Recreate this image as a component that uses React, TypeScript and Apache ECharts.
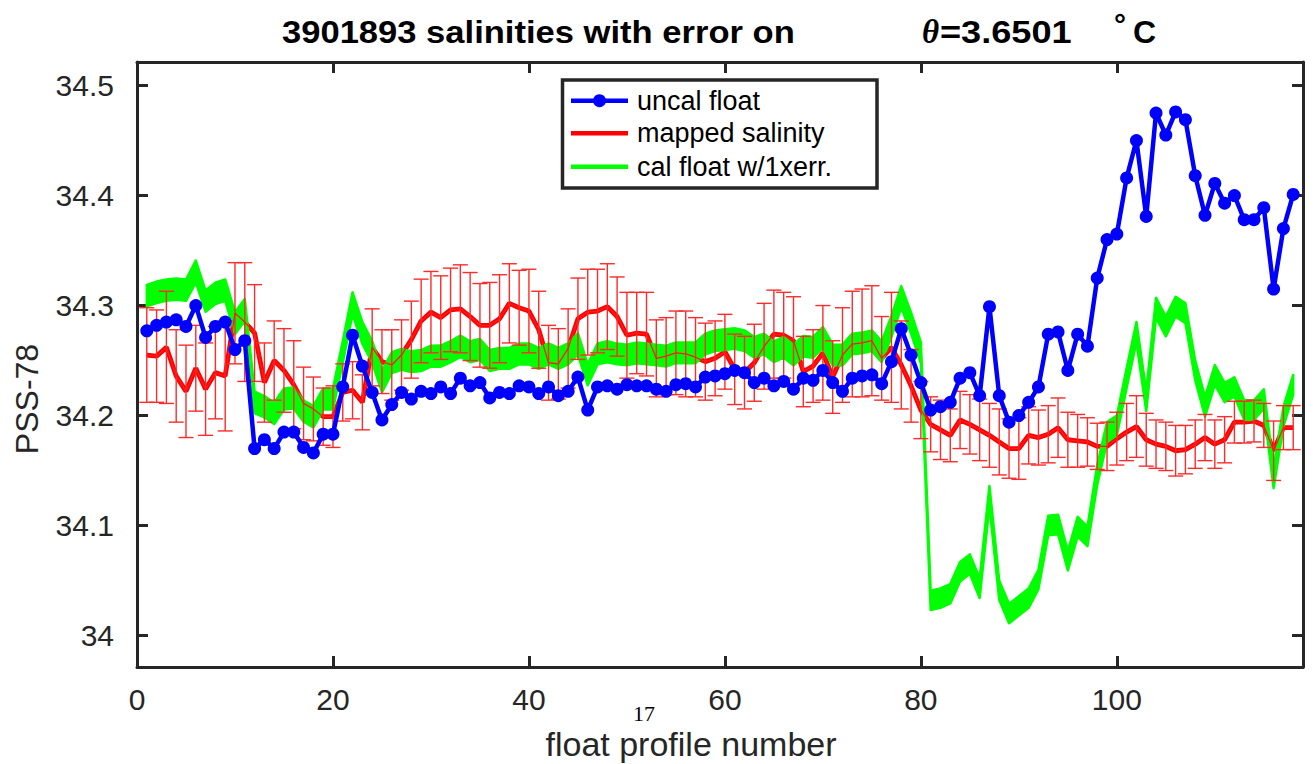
import React, { useEffect, useRef } from "react";
import * as echarts from "echarts";

const profiles = Array.from({ length: 118 }, (_, i) => i + 1);

const uncalFloat = [
  34.277, 34.282, 34.285, 34.287, 34.281, 34.300, 34.271, 34.281, 34.285, 34.260,
  34.268, 34.170, 34.178, 34.170, 34.185, 34.185, 34.171, 34.166, 34.183, 34.183,
  34.226, 34.273, 34.245, 34.221, 34.196, 34.210, 34.221, 34.215, 34.222, 34.220,
  34.226, 34.220, 34.234, 34.227, 34.230, 34.216, 34.221, 34.220, 34.227, 34.226,
  34.220, 34.226, 34.218, 34.222, 34.235, 34.205, 34.226, 34.227, 34.224, 34.228,
  34.227, 34.227, 34.224, 34.222, 34.228, 34.229, 34.226, 34.235, 34.236, 34.238,
  34.241, 34.239, 34.230, 34.234, 34.227, 34.231, 34.224, 34.234, 34.232, 34.241,
  34.230, 34.222, 34.234, 34.236, 34.237, 34.229, 34.249, 34.279, 34.255, 34.230,
  34.205, 34.208, 34.212, 34.234, 34.239, 34.218, 34.299, 34.218, 34.194, 34.200,
  34.212, 34.226, 34.274, 34.276, 34.241, 34.274, 34.263, 34.325, 34.360, 34.365,
  34.416, 34.450, 34.381, 34.475, 34.455, 34.476, 34.469, 34.418, 34.382, 34.411,
  34.393, 34.400, 34.378, 34.378, 34.389, 34.315, 34.370, 34.401,
];

const mappedSalinity = [
  34.255, 34.254, 34.262, 34.236, 34.222, 34.243, 34.224, 34.239, 34.236, 34.293,
  34.285, 34.275, 34.230, 34.250, 34.241, 34.228, 34.211, 34.206, 34.199, 34.199,
  34.221, 34.223, 34.212, 34.262, 34.249, 34.246, 34.255, 34.269, 34.286, 34.294,
  34.289, 34.296, 34.297, 34.290, 34.282, 34.282, 34.288, 34.302, 34.298, 34.295,
  34.278, 34.248, 34.247, 34.261, 34.288, 34.294, 34.295, 34.299, 34.290, 34.273,
  34.275, 34.274, 34.252, 34.254, 34.257, 34.256, 34.253, 34.249, 34.252, 34.258,
  34.242, 34.239, 34.248, 34.263, 34.274, 34.273, 34.268, 34.240, 34.245, 34.257,
  34.235, 34.255, 34.265, 34.266, 34.268, 34.252, 34.262, 34.246, 34.227, 34.205,
  34.192, 34.187, 34.182, 34.196, 34.192, 34.187, 34.182, 34.176, 34.170, 34.170,
  34.182, 34.180, 34.183, 34.189, 34.178, 34.177, 34.176, 34.172, 34.172, 34.179,
  34.185, 34.190, 34.178, 34.174, 34.172, 34.168, 34.169, 34.174, 34.180, 34.174,
  34.178, 34.194, 34.194, 34.195, 34.191, 34.168, 34.189, 34.189,
];

const mappedError = [
  0.043, 0.042, 0.051, 0.042, 0.042, 0.039, 0.042, 0.042, 0.050, 0.046,
  0.054, 0.044, 0.036, 0.036, 0.038, 0.040, 0.033, 0.029, 0.026, 0.028,
  0.026, 0.026, 0.025, 0.035, 0.029, 0.032, 0.032, 0.035, 0.038, 0.037,
  0.038, 0.038, 0.040, 0.040, 0.038, 0.039, 0.040, 0.036, 0.034, 0.038,
  0.035, 0.034, 0.032, 0.036, 0.037, 0.039, 0.038, 0.039, 0.036, 0.039,
  0.037, 0.038, 0.035, 0.035, 0.038, 0.039, 0.036, 0.035, 0.034, 0.034,
  0.032, 0.033, 0.035, 0.039, 0.040, 0.039, 0.040, 0.032, 0.033, 0.043,
  0.033, 0.043, 0.048, 0.049, 0.050, 0.038, 0.050, 0.040, 0.033, 0.026,
  0.025, 0.027, 0.024, 0.026, 0.027, 0.028, 0.029, 0.030, 0.027, 0.028,
  0.026, 0.025, 0.026, 0.027, 0.025, 0.024, 0.022, 0.021, 0.022, 0.024,
  0.026, 0.028, 0.024, 0.022, 0.022, 0.023, 0.022, 0.022, 0.021, 0.022,
  0.021, 0.019, 0.019, 0.019, 0.020, 0.027, 0.020, 0.020,
];

const calFloat = [
  34.309, 34.312, 34.314, 34.315, 34.314, 34.331, 34.304, 34.311, 34.314, 34.284,
  34.296, 34.212, 34.208, 34.202, 34.215, 34.216, 34.204, 34.199, 34.215, 34.215,
  34.258, 34.302, 34.275, 34.258, 34.231, 34.248, 34.251, 34.249, 34.250, 34.254,
  34.254, 34.258, 34.263, 34.258, 34.260, 34.250, 34.252, 34.252, 34.256, 34.256,
  34.252, 34.256, 34.252, 34.256, 34.265, 34.237, 34.256, 34.258, 34.256, 34.255,
  34.257, 34.256, 34.255, 34.254, 34.257, 34.257, 34.257, 34.265, 34.268, 34.269,
  34.270, 34.268, 34.262, 34.265, 34.258, 34.262, 34.255, 34.263, 34.262, 34.271,
  34.255, 34.255, 34.265, 34.266, 34.268, 34.258, 34.281, 34.308, 34.284, 34.257,
  34.032, 34.034, 34.038, 34.058, 34.065, 34.043, 34.127, 34.041, 34.020, 34.027,
  34.034, 34.051, 34.100, 34.101, 34.068, 34.099, 34.090, 34.146, 34.185, 34.191,
  34.234, 34.276, 34.213, 34.298, 34.281, 34.299, 34.293, 34.241, 34.208, 34.237,
  34.221, 34.226, 34.205, 34.205, 34.215, 34.143, 34.199, 34.228,
];

const calError = [
  0.0098, 0.0098, 0.0097, 0.0097, 0.0097, 0.0099, 0.0096, 0.0097, 0.0097, 0.0098,
  0.0099, 0.0098, 0.0097, 0.0097, 0.0096, 0.0096, 0.0096, 0.0097, 0.0096, 0.0096,
  0.0098, 0.0100, 0.0099, 0.0098, 0.0097, 0.0095, 0.0095, 0.0095, 0.0095, 0.0095,
  0.0096, 0.0096, 0.0096, 0.0095, 0.0095, 0.0095, 0.0095, 0.0095, 0.0095, 0.0095,
  0.0095, 0.0095, 0.0095, 0.0095, 0.0096, 0.0095, 0.0095, 0.0095, 0.0094, 0.0094,
  0.0094, 0.0094, 0.0094, 0.0094, 0.0094, 0.0094, 0.0094, 0.0094, 0.0094, 0.0094,
  0.0094, 0.0094, 0.0094, 0.0094, 0.0094, 0.0094, 0.0094, 0.0094, 0.0094, 0.0094,
  0.0094, 0.0094, 0.0094, 0.0094, 0.0094, 0.0094, 0.0095, 0.0097, 0.0096, 0.0095,
  0.0088, 0.0088, 0.0088, 0.0088, 0.0088, 0.0088, 0.0090, 0.0088, 0.0088, 0.0088,
  0.0088, 0.0088, 0.0089, 0.0089, 0.0088, 0.0089, 0.0088, 0.0090, 0.0090, 0.0089,
  0.0089, 0.0090, 0.0089, 0.0090, 0.0090, 0.0090, 0.0090, 0.0089, 0.0089, 0.0089,
  0.0088, 0.0088, 0.0088, 0.0088, 0.0088, 0.0090, 0.0088, 0.0089,
];

const xTicks = [0, 20, 40, 60, 80, 100];
const yTicks = [34, 34.1, 34.2, 34.3, 34.4, 34.5];

const titleMain = "3901893 salinities with error on";
const titleTheta = "\u03b8";
const titleValue = "=3.6501";
const titleDeg = "\u00b0";
const titleUnit = "C";
const xName = "float profile number";
const yName = "PSS-78";
const strayLabel = "17";
const legendNames = ["uncal float", "mapped salinity", "cal float w/1xerr."];

const SANS = "'Liberation Sans', Arial, Helvetica, sans-serif";
const SERIF = "'Liberation Serif', 'Times New Roman', serif";
const FRAME = "#262626";

export default function App() {
  const ref = useRef<HTMLDivElement>(null);

  useEffect(() => {
    if (!ref.current) return;
    const chart = echarts.init(ref.current, undefined, { renderer: "svg" });

    const blueData = profiles.map((p, i) => [p, uncalFloat[i]]);
    const redData = profiles.map((p, i) => [p, mappedSalinity[i]]);
    const errData = profiles.map((p, i) => [
      p,
      mappedSalinity[i] - mappedError[i],
      mappedSalinity[i] + mappedError[i],
    ]);
    const bandData = profiles.map((p, i) => [
      p,
      calFloat[i] - calError[i],
      calFloat[i] + calError[i],
    ]);

    const axisLine = { show: true, onZero: false, lineStyle: { color: FRAME, width: 3 } };
    const tick = (vals: number[]) => ({
      show: true,
      inside: true,
      length: 11,
      customValues: vals,
      lineStyle: { color: FRAME, width: 3 },
    });

    const txt = (
      text: string,
      x: number,
      y: number,
      opts: Record<string, any> = {},
      extra: Record<string, any> = {}
    ) => ({
      type: "text",
      x,
      y,
      z: 100,
      ...extra,
      style: {
        text,
        fill: "#000",
        fontFamily: SANS,
        fontSize: 26,
        align: "left",
        verticalAlign: "middle",
        textAlign: "left",
        textVerticalAlign: "middle",
        ...opts,
      },
    });

    const legendRows = [100.7, 133.3, 166.7];
    const legendColors = ["#0000ff", "#ff0000", "#00ff00"];

    const option: any = {
      animation: false,
      backgroundColor: "#fff",
      grid: { left: 137, top: 62, width: 1166, height: 605, containLabel: false },
      xAxis: [
        {
          type: "value",
          min: 0,
          max: 119,
          position: "bottom",
          axisLine,
          axisTick: tick(xTicks),
          axisLabel: {
            customValues: xTicks,
            fontSize: 30,
            fontFamily: SANS,
            color: FRAME,
            margin: 17,
          },
          splitLine: { show: false },
        },
        {
          type: "value",
          min: 0,
          max: 119,
          position: "top",
          axisLine,
          axisTick: tick(xTicks),
          axisLabel: { show: false },
          splitLine: { show: false },
        },
      ],
      yAxis: [
        {
          type: "value",
          min: 33.9714,
          max: 34.5214,
          position: "left",
          axisLine,
          axisTick: tick(yTicks),
          axisLabel: {
            customValues: yTicks,
            fontSize: 30,
            fontFamily: SANS,
            color: FRAME,
            margin: 23,
            formatter: (v: number) => String(Math.round(v * 10) / 10),
          },
          splitLine: { show: false },
        },
        {
          type: "value",
          min: 33.9714,
          max: 34.5214,
          position: "right",
          axisLine,
          axisTick: tick(yTicks),
          axisLabel: { show: false },
          splitLine: { show: false },
        },
      ],
      series: [
        {
          name: "mapped salinity",
          type: "line",
          data: redData,
          symbol: "none",
          z: 1,
          lineStyle: { color: "#ff0000", width: 4.8 },
          silent: true,
        },
        {
          name: "cal float w/1xerr.",
          type: "custom",
          z: 2,
          silent: true,
          clip: true,
          data: bandData,
          encode: { x: 0, y: [1, 2] },
          renderItem: (params: any, api: any) => {
            if (params.dataIndex !== 0) return null;
            const lower = bandData.map((d) => api.coord([d[0], d[1]]));
            const upper = bandData.map((d) => api.coord([d[0], d[2]])).reverse();
            return {
              type: "polygon",
              shape: { points: lower.concat(upper) },
              style: { fill: "#00ff00", stroke: "#00ff00", lineWidth: 2.5, lineJoin: "round" },
            };
          },
        },
        {
          name: "mapped thin",
          type: "line",
          data: redData,
          symbol: "none",
          z: 3,
          lineStyle: { color: "#ff1a1a", width: 1.3 },
          silent: true,
        },
        {
          name: "mapped error",
          type: "custom",
          z: 3,
          silent: true,
          data: errData,
          encode: { x: 0, y: [1, 2] },
          renderItem: (params: any, api: any) => {
            const x = api.value(0);
            const top = api.coord([x, api.value(2)]);
            const bot = api.coord([x, api.value(1)]);
            const hw = 7.5;
            const st = { stroke: "#ff2a2a", lineWidth: 1.4 };
            return {
              type: "group",
              children: [
                { type: "line", shape: { x1: top[0], y1: top[1], x2: bot[0], y2: bot[1] }, style: st },
                { type: "line", shape: { x1: top[0] - hw, y1: top[1], x2: top[0] + hw, y2: top[1] }, style: st },
                { type: "line", shape: { x1: bot[0] - hw, y1: bot[1], x2: bot[0] + hw, y2: bot[1] }, style: st },
              ],
            };
          },
        },
        {
          name: "uncal float",
          type: "line",
          data: blueData,
          symbol: "circle",
          symbolSize: 13,
          z: 4,
          itemStyle: { color: "#0000ff" },
          lineStyle: { color: "#0000ff", width: 4.5 },
          silent: true,
        },
      ],
      graphic: [
        txt(titleMain, 282, 32, { fontWeight: "bold", fontSize: 32 }, { scaleX: 1.08 }),
        txt(titleTheta, 922, 32, { fontWeight: "bold", fontStyle: "italic", fontFamily: SERIF, fontSize: 33 }),
        txt(titleValue, 940, 32, { fontWeight: "bold", fontSize: 32 }, { scaleX: 1.13 }),
        txt(titleDeg, 1114, 24, { fontWeight: "bold", fontSize: 30 }),
        txt(titleUnit, 1133, 32, { fontWeight: "bold", fontSize: 32 }),
        txt(xName, 691, 744, { fontSize: 34, align: "center", textAlign: "center", fill: FRAME }),
        txt(yName, 27, 399, { fontSize: 32, align: "center", textAlign: "center", fill: FRAME }, { rotation: Math.PI / 2 }),
        txt(strayLabel, 644, 713, { fontFamily: SERIF, fontSize: 22, align: "center", textAlign: "center" }),
        {
          type: "rect",
          z: 99,
          shape: { x: 562.5, y: 80, width: 314.5, height: 108 },
          style: { fill: "#fff", stroke: FRAME, lineWidth: 3.5 },
        },
        ...legendRows.flatMap((y, i) => {
          const items: any[] = [
            {
              type: "line",
              z: 100,
              shape: { x1: 571, y1: y, x2: 628, y2: y },
              style: { stroke: legendColors[i], lineWidth: 4.5 },
            },
            txt(legendNames[i], 637, y, { fontSize: 27 }),
          ];
          if (i === 0) {
            items.push({
              type: "circle",
              z: 101,
              shape: { cx: 599.5, cy: y, r: 6.5 },
              style: { fill: legendColors[0] },
            });
          }
          return items;
        }),
      ],
    };

    chart.setOption(option);
    return () => chart.dispose();
  }, []);

  return (
    <div
      ref={ref}
      style={{ position: "fixed", left: 0, top: 0, width: 1313, height: 764, background: "#fff" }}
    />
  );
}
